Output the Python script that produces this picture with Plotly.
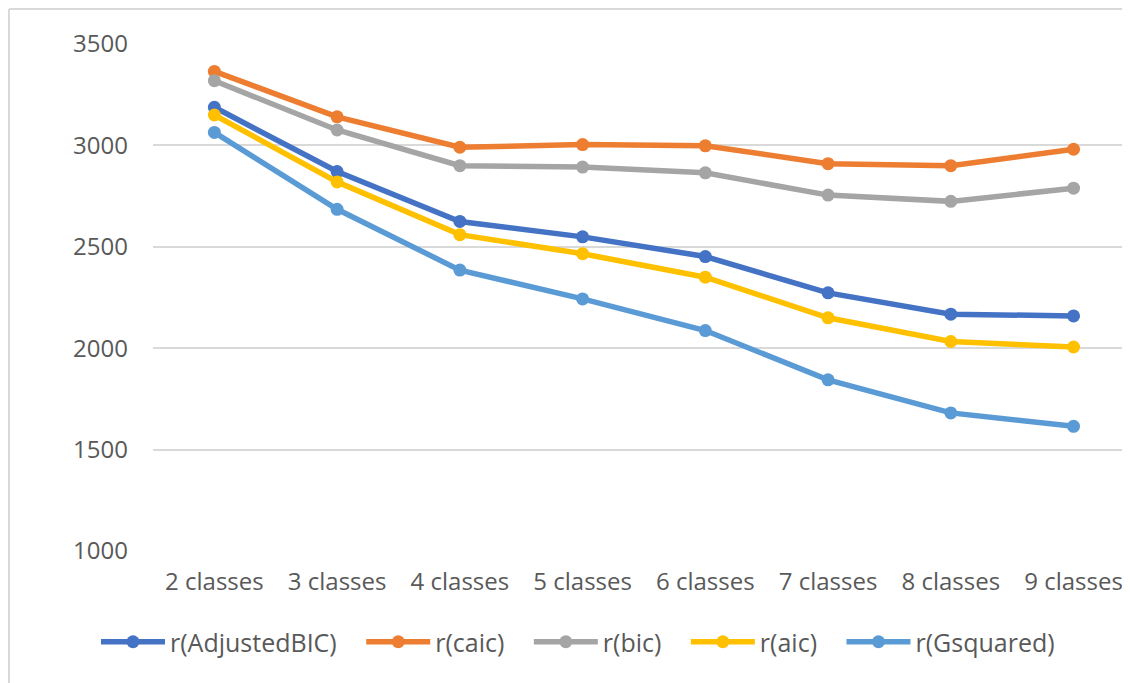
import plotly.graph_objects as go

categories = ["2 classes", "3 classes", "4 classes", "5 classes", "6 classes", "7 classes", "8 classes", "9 classes"]
adjusted_bic = [3188, 2871, 2625, 2549, 2452, 2273, 2168, 2159]
caic = [3365, 3141, 2991, 3004, 2998, 2910, 2900, 2981]
bic = [3319, 3076, 2900, 2893, 2865, 2755, 2724, 2789]
aic = [3150, 2820, 2560, 2466, 2350, 2150, 2033, 2006]
gsquared = [3064, 2685, 2385, 2243, 2087, 1844, 1681, 1615]
series_names = ["r(AdjustedBIC)", "r(caic)", "r(bic)", "r(aic)", "r(Gsquared)"]

colors = ["#4472C4", "#ED7D31", "#A5A5A5", "#FFC000", "#5B9BD5"]
values = [adjusted_bic, caic, bic, aic, gsquared]

fig = go.Figure()
for i, (name, vals, color) in enumerate(zip(series_names, values, colors)):
    pad = "\u00a0\u00a0\u00a0" if i < len(series_names) - 1 else ""
    fig.add_trace(go.Scatter(
        x=categories, y=vals, name=name + pad, mode="lines+markers",
        line=dict(color=color, width=5.5),
        marker=dict(color=color, size=13),
    ))

# page has an 8px body margin, so the figure is offset by 8px
OFF = 8
W, H = 1130 - OFF, 683 - OFF
L, T = 153 - OFF, 44 - OFF
B = 683 - 551
PW = 1130 - 153
PH = 551 - 44

font_family = "Open Sans, Noto Sans, sans-serif"
fig.update_layout(
    width=W, height=H,
    margin=dict(l=L, r=0, t=T, b=B, pad=0),
    paper_bgcolor="white", plot_bgcolor="white",
    font=dict(family=font_family, size=24, color="#595959"),
    showlegend=True,
    legend=dict(orientation="h", x=0.435, xanchor="center", y=(551 - 642) / PH, yanchor="middle",
                font=dict(size=25, color="#595959"), itemwidth=64, tracegroupgap=0),
    xaxis=dict(range=[-0.5, 7.46], showgrid=False, showline=False, zeroline=False,
               ticks="", ticklabelstandoff=14, tickfont=dict(size=24)),
    yaxis=dict(range=[1000, 3500], tickvals=[1000, 1500, 2000, 2500, 3000, 3500],
               showgrid=True, gridcolor="#D9D9D9", gridwidth=1.5, zeroline=False,
               showline=False, ticks="", ticklabelstandoff=24, tickfont=dict(size=24)),
)

# outer chart border (light gray)
bx = (9 - 153) / PW
by = (551 - 9) / PH
fig.add_shape(type="line", xref="paper", yref="paper",
              x0=bx, x1=1.1, y0=by, y1=by,
              line=dict(color="#D9D9D9", width=2))
fig.add_shape(type="line", xref="paper", yref="paper",
              x0=bx, x1=bx, y0=by, y1=-0.4,
              line=dict(color="#D9D9D9", width=2))

fig.write_html("out.html")
